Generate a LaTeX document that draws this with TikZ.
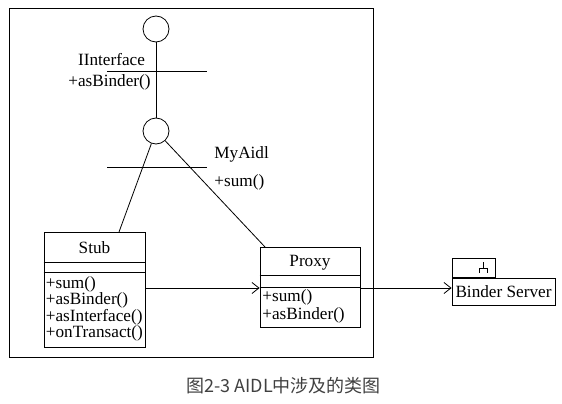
\documentclass[tikz,border=0pt]{standalone}
\usepackage{fontspec}
\setmainfont{Liberation Serif}
\newfontfamily\cjk{Noto Sans CJK SC}
\usetikzlibrary{arrows.meta}
\begin{document}
\begin{tikzpicture}[x=1pt,y=-1pt,line width=0.8pt,
  every node/.style={font=\fontsize{17.2}{18}\selectfont, inner sep=0pt},
  iface/.style={circle,draw,minimum size=26pt,inner sep=0pt},
  classbox/.style={draw,rectangle,inner sep=0pt},
  lbl/.style={anchor=center},
  meth/.style={anchor=west},
  arr/.style={-{Straight Barb[length=7pt,width=11pt,line width=0.8pt]}}]
\useasboundingbox (0,0) rectangle (562,404);
% frame
\draw[line width=1pt] (9,9) rectangle (373,357);
% interfaces
\node[iface] (c1) at (156,29) {};
\node[iface] (c2) at (156,131) {};
\draw (c1) -- (c2);
\draw (107,71) -- (207,71);
\node[lbl] (iname) at (111.5,60) {IInterface};
\node[lbl] (imeth) at (109.5,82) {+asBinder()};
\draw (107,167) -- (207,167);
\node[meth] (mname) at (214,154) {MyAidl};
\node[meth] (mmeth) at (214,182) {+sum()};
% Stub
\node[classbox,minimum width=101pt,minimum height=115pt] (stub) at (94.5,289.5) {};
\draw (stub.west |- 0,262) -- (stub.east |- 0,262);
\draw (stub.west |- 0,272) -- (stub.east |- 0,272);
\node[lbl] (stubname) at (94.5,248) {Stub};
\node[meth] (s1) at (45.5,284) {+sum()};
\node[meth] (s2) at (45.5,300.5) {+asBinder()};
\node[meth] (s3) at (45.5,317) {+asInterface()};
\node[meth] (s4) at (45.5,333.5) {+onTransact()};
% Proxy
\node[classbox,minimum width=100pt,minimum height=80pt] (proxy) at (310,287) {};
\draw (proxy.west |- 0,275) -- (proxy.east |- 0,275);
\draw (proxy.west |- 0,287) -- (proxy.east |- 0,287);
\node[lbl] (proxyname) at (310,263) {Proxy};
\node[meth] (p1) at (262,297) {+sum()};
\node[meth] (p2) at (262,315) {+asBinder()};
% Binder Server
\node[classbox,minimum width=103pt,minimum height=27pt] (bs) at (503.5,291.5) {Binder Server};
\node[classbox,minimum width=43pt,minimum height=19pt,anchor=south west] (bstab) at (bs.north west) {};
\draw (483,262) -- (483,268) (479,273) -- (479,268) -- (487.5,268) -- (487.5,273);
% connectors
\coordinate (sa) at (119,232);
\coordinate (pa) at (265,247);
\draw (c2) -- (sa);
\draw (c2) -- (pa);
\draw[arr] (stub.east |- 0,288) -- (proxy.west |- 0,288);
\draw[arr] (proxy.east |- 0,288) -- (bs.west |- 0,288);
% caption
\node[font=\cjk\fontsize{18}{20}\selectfont,text=black!75] (cap) at (283.5,386) {图2-3 AIDL中涉及的类图};
\end{tikzpicture}
\end{document}
